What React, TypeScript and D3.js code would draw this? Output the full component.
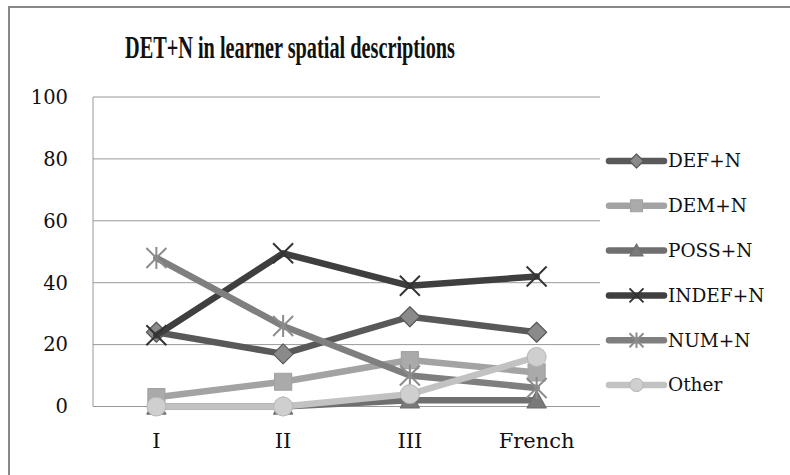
import * as React from 'react';
import * as d3 from 'd3';

const categories = ['I', 'II', 'III', 'French'];
const seriesNames = ['DEF+N', 'DEM+N', 'POSS+N', 'INDEF+N', 'NUM+N', 'Other'];
const defN = [24, 17, 29, 24];
const demN = [3, 8, 15, 11];
const possN = [0, 0, 2, 2];
const indefN = [23, 49.5, 39, 42];
const numN = [48, 26, 10, 6];
const other = [0, 0, 4, 16];
const yTicks = [0, 20, 40, 60, 80, 100];

const values = [defN, demN, possN, indefN, numN, other];
const lineColors = ['#595959', '#a3a3a3', '#6f6f6f', '#3f3f3f', '#7f7f7f', '#c2c2c2'];
const shapes = ['diamond', 'square', 'triangle', 'x', 'star', 'circle'];

const FONT = '"DejaVu Serif", "Liberation Serif", serif';
const TITLE_FONT = '"Liberation Serif", "DejaVu Serif", serif';

function Marker({ shape, color, x, y, legend }: any) {
  const s = legend ? 0.7 : 1;
  if (shape === 'x') {
    const r = 10 * s;
    return (
      <g stroke="#333" strokeWidth={2}>
        <line x1={x - r} y1={y - r} x2={x + r} y2={y + r} />
        <line x1={x - r} y1={y + r} x2={x + r} y2={y - r} />
      </g>
    );
  }
  if (shape === 'star') {
    const r = 10 * s;
    return (
      <g stroke="#8c8c8c" strokeWidth={2}>
        <line x1={x - r} y1={y - r} x2={x + r} y2={y + r} />
        <line x1={x - r} y1={y + r} x2={x + r} y2={y - r} />
        <line x1={x} y1={y - r * 1.1} x2={x} y2={y + r * 1.1} />
      </g>
    );
  }
  let d = '';
  let fill = color;
  if (shape === 'diamond') {
    const r = 10 * s;
    d = `M${x},${y - r}L${x + r},${y}L${x},${y + r}L${x - r},${y}Z`;
    fill = '#8a8a8a';
  } else if (shape === 'square') {
    const r = 8.5 * s;
    d = `M${x - r},${y - r}h${2 * r}v${2 * r}h${-2 * r}Z`;
    fill = '#aaaaaa';
  } else if (shape === 'triangle') {
    const r = 9.5 * s;
    d = `M${x},${y - r}L${x + r},${y + r * 0.8}L${x - r},${y + r * 0.8}Z`;
    fill = '#7a7a7a';
  } else if (shape === 'circle') {
    const r = 9.5 * s;
    return <circle cx={x} cy={y} r={r} fill="#cfcfcf" stroke="#b5b5b5" strokeWidth={1} />;
  }
  return <path d={d} fill={fill} stroke={color} strokeWidth={1.2} strokeLinejoin="round" />;
}

export default function App() {
  const width = 790;
  const height = 475;
  const margin = { top: 97, left: 93, right: 190, bottom: 68 };
  const innerW = width - margin.left - margin.right;
  const innerH = 406.5 - margin.top;

  const x = d3.scaleBand().domain(categories).range([0, innerW]);
  const y = d3.scaleLinear().domain([0, 100]).range([innerH, 0]);
  const line = d3
    .line<number>()
    .x((_, i) => (x(categories[i]) as number) + x.bandwidth() / 2)
    .y((d) => y(d));

  return (
    <svg
      width={width}
      height={height}
      style={{ position: 'absolute', left: 0, top: 0, background: '#fff' }}
      fontFamily={FONT}
    >
      <rect x={9} y={7} width={800} height={500} fill="#fff" stroke="#888" strokeWidth={2} />
      <text
        x={125}
        y={58}
        fontFamily={TITLE_FONT}
        fontSize={31}
        fontWeight="bold"
        fill="#111"
        textLength={330}
        lengthAdjust="spacingAndGlyphs"
      >
        DET+N in learner spatial descriptions
      </text>
      <g transform={`translate(${margin.left},${margin.top})`}>
        {yTicks.map((t) => (
          <g key={t}>
            <line x1={0} x2={innerW} y1={y(t)} y2={y(t)} stroke="#999" strokeWidth={1} />
            <text x={-25} y={y(t)} dy="0.35em" textAnchor="end" fontSize={19.5} fill="#111">
              {t}
            </text>
          </g>
        ))}
        <line x1={0} x2={0} y1={0} y2={innerH} stroke="#999" strokeWidth={1} />
        {categories.map((c) => (
          <text
            key={c}
            x={(x(c) as number) + x.bandwidth() / 2}
            y={innerH + 41}
            textAnchor="middle"
            fontSize={21}
            fill="#111"
          >
            {c}
          </text>
        ))}
        {values.map((vals, si) => (
          <g key={seriesNames[si]}>
            <path
              d={line(vals) as string}
              fill="none"
              stroke={lineColors[si]}
              strokeWidth={6.5}
              strokeLinejoin="round"
              strokeLinecap="round"
            />
            {vals.map((v, i) => (
              <Marker
                key={i}
                shape={shapes[si]}
                color={lineColors[si]}
                x={(x(categories[i]) as number) + x.bandwidth() / 2}
                y={y(v)}
              />
            ))}
          </g>
        ))}
      </g>
      <g>
        {seriesNames.map((name, si) => {
          const ly = 161 + si * 44.8;
          return (
            <g key={name}>
              <line
                x1={609}
                x2={664}
                y1={ly}
                y2={ly}
                stroke={lineColors[si]}
                strokeWidth={6.5}
                strokeLinecap="round"
              />
              <Marker shape={shapes[si]} color={lineColors[si]} x={636.5} y={ly} legend />
              <text x={668} y={ly} dy="0.35em" fontSize={18.5} fill="#111">
                {name}
              </text>
            </g>
          );
        })}
      </g>
    </svg>
  );
}
